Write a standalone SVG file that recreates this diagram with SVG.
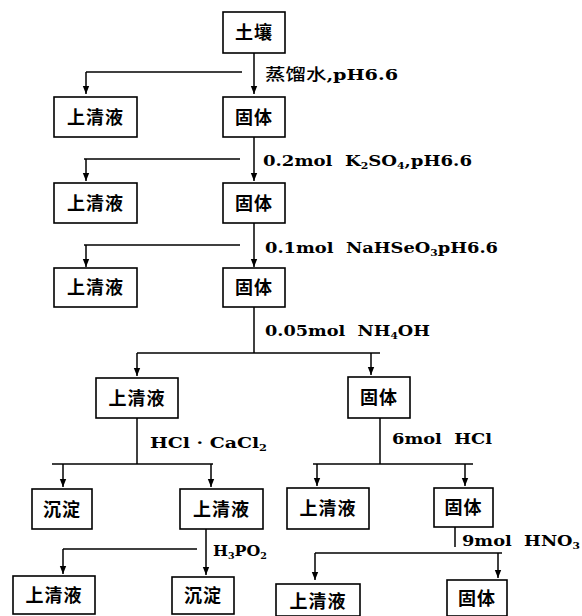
<svg xmlns="http://www.w3.org/2000/svg" width="582" height="616" viewBox="0 0 582 616">
<style>
.box{fill:#fff;stroke:#000;stroke-width:1.6}
.bt{font-family:"Noto Sans CJK SC","Noto Sans CJK JP",sans-serif;font-size:18px;font-weight:700;text-anchor:middle;fill:#000;letter-spacing:1px}
.lb{font-family:"DejaVu Serif","Liberation Serif","Noto Sans CJK SC",serif;font-size:15px;font-weight:700;fill:#000}
.cj{font-family:"Noto Sans CJK SC",sans-serif;font-size:16px;font-weight:500}
.sub{font-size:9px}
.ln{fill:none;stroke:#000;stroke-width:1.5}
.ar{fill:none;stroke:#000;stroke-width:1.5;marker-end:url(#ah)}
</style>
<defs>
<marker id="ah" viewBox="0 0 10 10" refX="10" refY="5" markerWidth="8" markerHeight="8" markerUnits="userSpaceOnUse" orient="auto">
<path d="M0,1 L10,5 L0,9 z" fill="#000"/>
</marker>
</defs>
<rect width="582" height="616" fill="#fff"/>
<g id="connectors">
<line class="ar" x1="254" y1="53" x2="254" y2="94"/>
<line class="ln" x1="86" y1="72" x2="242" y2="72"/>
<line class="ar" x1="86" y1="72" x2="86" y2="94"/>
<line class="ar" x1="254" y1="137" x2="254" y2="181"/>
<line class="ln" x1="84" y1="159" x2="240" y2="159"/>
<line class="ar" x1="86" y1="159" x2="86" y2="181"/>
<line class="ar" x1="254" y1="223" x2="254" y2="267"/>
<line class="ln" x1="84" y1="245" x2="240" y2="245"/>
<line class="ar" x1="86" y1="245" x2="86" y2="267"/>
<line class="ln" x1="254" y1="307" x2="254" y2="353"/>
<line class="ln" x1="137" y1="353" x2="380" y2="353"/>
<line class="ar" x1="137" y1="353" x2="137" y2="376"/>
<line class="ar" x1="371" y1="353" x2="371" y2="375"/>
<line class="ln" x1="137" y1="418" x2="137" y2="464"/>
<line class="ln" x1="52" y1="464" x2="213" y2="464"/>
<line class="ar" x1="63" y1="464" x2="63" y2="487"/>
<line class="ar" x1="211" y1="464" x2="211" y2="487"/>
<line class="ln" x1="380" y1="418" x2="380" y2="464"/>
<line class="ln" x1="313" y1="464" x2="473" y2="464"/>
<line class="ar" x1="317" y1="464" x2="317" y2="486"/>
<line class="ar" x1="465" y1="464" x2="465" y2="486"/>
<line class="ar" x1="206" y1="529" x2="206" y2="575"/>
<line class="ln" x1="63" y1="549" x2="197" y2="549"/>
<line class="ar" x1="63" y1="549" x2="63" y2="574"/>
<line class="ln" x1="455" y1="527" x2="455" y2="547"/>
<line class="ln" x1="315" y1="553" x2="502" y2="553"/>
<line class="ar" x1="315" y1="553" x2="315" y2="580"/>
<line class="ar" x1="498" y1="553" x2="498" y2="578"/>
<text class="lb" x="265" y="80" textLength="133" lengthAdjust="spacingAndGlyphs"><tspan class="cj">蒸馏水</tspan>,pH6.6</text>
<text class="lb" x="263" y="166" textLength="209" lengthAdjust="spacingAndGlyphs" xml:space="preserve">0.2mol  K<tspan class="sub" dy="3">2</tspan><tspan dy="-3">SO</tspan><tspan class="sub" dy="3">4</tspan><tspan dy="-3">,pH6.6</tspan></text>
<text class="lb" x="265" y="253" textLength="233" lengthAdjust="spacingAndGlyphs" xml:space="preserve">0.1mol  NaHSeO<tspan class="sub" dy="3">3</tspan><tspan dy="-3">pH6.6</tspan></text>
<text class="lb" x="265" y="336" textLength="165" lengthAdjust="spacingAndGlyphs" xml:space="preserve">0.05mol  NH<tspan class="sub" dy="3">4</tspan><tspan dy="-3">OH</tspan></text>
<text class="lb" x="150" y="448" textLength="117" lengthAdjust="spacingAndGlyphs" xml:space="preserve">HCl · CaCl<tspan class="sub" dy="3">2</tspan></text>
<text class="lb" x="392" y="444" textLength="100" lengthAdjust="spacingAndGlyphs" xml:space="preserve">6mol  HCl</text>
<text class="lb" x="213" y="556" textLength="54" lengthAdjust="spacingAndGlyphs">H<tspan class="sub" dy="3">3</tspan><tspan dy="-3">PO</tspan><tspan class="sub" dy="3">2</tspan></text>
<text class="lb" x="462" y="546" textLength="118" lengthAdjust="spacingAndGlyphs" xml:space="preserve">9mol  HNO<tspan class="sub" dy="3">3</tspan></text>
</g>
<g id="n-soil"><rect class="box" x="223" y="12" width="62" height="41"/><text class="bt" x="254" y="39">土壤</text></g>
<g id="n-liq1"><rect class="box" x="54" y="97" width="83" height="40"/><text class="bt" x="95.5" y="124">上清液</text></g>
<g id="n-sol1"><rect class="box" x="223" y="97" width="62" height="40"/><text class="bt" x="254" y="124">固体</text></g>
<g id="n-liq2"><rect class="box" x="54" y="183" width="83" height="40"/><text class="bt" x="95.5" y="210">上清液</text></g>
<g id="n-sol2"><rect class="box" x="223" y="183" width="62" height="40"/><text class="bt" x="254" y="210">固体</text></g>
<g id="n-liq3"><rect class="box" x="54" y="268" width="83" height="39"/><text class="bt" x="95.5" y="294">上清液</text></g>
<g id="n-sol3"><rect class="box" x="223" y="268" width="62" height="39"/><text class="bt" x="254" y="294">固体</text></g>
<g id="n-liq4"><rect class="box" x="96" y="378" width="82" height="40"/><text class="bt" x="137" y="405">上清液</text></g>
<g id="n-sol4"><rect class="box" x="348" y="377" width="62" height="41"/><text class="bt" x="379" y="404">固体</text></g>
<g id="n-ppt5"><rect class="box" x="32" y="489" width="60" height="40"/><text class="bt" x="62" y="516">沉淀</text></g>
<g id="n-liq5"><rect class="box" x="180" y="489" width="83" height="40"/><text class="bt" x="221.5" y="516">上清液</text></g>
<g id="n-liq5r"><rect class="box" x="287" y="488" width="82" height="41"/><text class="bt" x="328" y="515">上清液</text></g>
<g id="n-sol5"><rect class="box" x="434" y="488" width="59" height="39"/><text class="bt" x="463.5" y="514">固体</text></g>
<g id="n-liq6"><rect class="box" x="13" y="576" width="82" height="38"/><text class="bt" x="54" y="602">上清液</text></g>
<g id="n-ppt6"><rect class="box" x="172" y="577" width="62" height="37"/><text class="bt" x="203" y="602">沉淀</text></g>
<g id="n-liq6r"><rect class="box" x="276" y="584" width="84" height="32"/><text class="bt" x="318" y="608">上清液</text></g>
<g id="n-sol6"><rect class="box" x="447" y="580" width="60" height="36"/><text class="bt" x="477" y="605">固体</text></g>
</svg>
